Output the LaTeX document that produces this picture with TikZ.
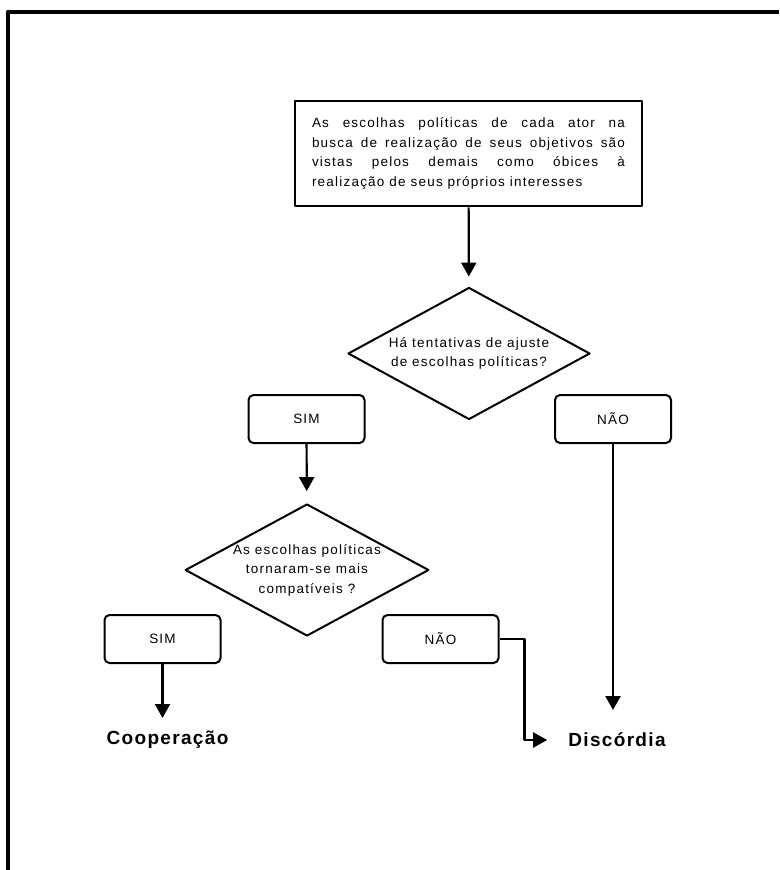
\documentclass[tikz,border=0pt]{standalone}
\usepackage{fontspec}
\setmainfont{Liberation Sans}[LetterSpace=9]
\newfontfamily\fimfont{Liberation Sans}[LetterSpace=7]
\usetikzlibrary{shapes.geometric,arrows.meta}

\tikzset{
  caixa/.style={draw, line width=2.6pt, minimum width=347pt, minimum height=105pt,
    text width=313pt, align=justify, inner sep=0pt},
  decisao/.style={draw, diamond, line width=2pt, minimum width=242pt, minimum height=132pt,
    aspect=1.85, inner sep=0pt, align=center},
  resposta/.style={draw, rounded corners=5pt, line width=2pt, minimum width=116pt,
    minimum height=48pt, inner sep=0pt},
  fim/.style={font=\fimfont\fontsize{19}{22}\selectfont\bfseries, inner sep=0pt},
  seta/.style={line width=2.2pt, -{Triangle[width=15pt,length=14pt]}}
}

\begin{document}
\begin{tikzpicture}[x=1pt, y=-1pt, line join=round, font=\fontsize{13.5}{19.5}\selectfont]
\useasboundingbox (0,0) rectangle (779,870);
% moldura
\draw[line width=4pt] (8,870) -- (8,11.5) -- (779,11.5);

\node[caixa] (acao) at (468.5,153.5) {\hyphenpenalty=10000 As escolhas políticas de cada ator na\linebreak busca de realização de seus objetivos são\linebreak vistas pelos demais como óbices à\linebreak realização de seus próprios interesses};

\node[decisao] (ajuste) at (469,353.5) {Há tentativas de ajuste\\de escolhas políticas?};
\node[resposta] (sim1) at (306.5,419) {SIM};
\node[resposta] (nao1) at (613,419) {NÃO};

\node[decisao] (compat) at (307,570) {As escolhas políticas\\tornaram-se mais\\compatíveis ?};
\node[resposta] (sim2) at (162.5,639) {SIM};
\node[resposta] (nao2) at (440.5,639) {NÃO};

\node[fim] (coop) at (167.5,740) {Cooperação};
\node[fim] (disc) at (617,740) {Discórdia};

\draw[seta, shorten >=10pt] (acao) -- (ajuste);
\draw[seta, shorten >=12pt] (sim1) -- (compat);
\draw[seta, shorten >=22pt] (sim2.south) -- (sim2.south |- coop);
\draw[seta, shorten >=30pt] (nao1.south) -- (nao1.south |- disc);
\draw[seta, shorten >=21pt] (nao2.east) -- ++(25,0) |- (disc.west);
\end{tikzpicture}
\end{document}
